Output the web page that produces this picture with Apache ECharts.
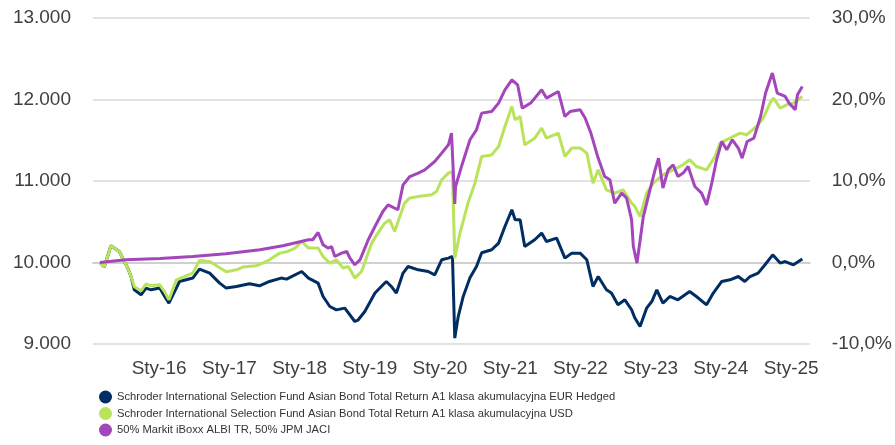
<!DOCTYPE html>
<html>
<head>
<meta charset="utf-8">
<script src="https://cdn.jsdelivr.net/npm/echarts@6.0.0/dist/echarts.min.js"></script>
<style>
  html, body { margin: 0; padding: 0; background: #fff; }
  #chart { width: 895px; height: 445px; }
</style>
</head>
<body>
<div id="chart"></div>
<script>
// nazwy serii (legenda)
var seriesNames = [
  "Schroder International Selection Fund Asian Bond Total Return A1 klasa akumulacyjna EUR Hedged",
  "Schroder International Selection Fund Asian Bond Total Return A1 klasa akumulacyjna USD",
  "50% Markit iBoxx ALBI TR, 50% JPM JACI"
];

// lata z etykietami na osi X (Sty-16 ... Sty-25)
var labelYears = [2016, 2017, 2018, 2019, 2020, 2021, 2022, 2023, 2024, 2025];

// EUR Hedged
var blueDates = [
  "2015-02-27", "2015-03-22", "2015-04-25", "2015-06-08", "2015-07-04", "2015-07-21", "2015-08-08", "2015-08-25",
  "2015-09-29", "2015-10-25", "2015-11-20", "2016-01-04", "2016-01-30", "2016-02-21", "2016-04-16", "2016-06-24",
  "2016-07-29", "2016-09-20", "2016-11-11", "2016-12-15", "2017-02-06", "2017-04-15", "2017-06-06", "2017-07-28",
  "2017-09-27", "2017-10-25", "2018-01-12", "2018-02-16", "2018-04-07", "2018-05-03", "2018-06-07", "2018-07-11",
  "2018-08-24", "2018-10-15", "2018-11-02", "2018-12-06", "2019-01-28", "2019-03-02", "2019-03-28", "2019-04-23",
  "2019-05-19", "2019-06-23", "2019-07-19", "2019-09-10", "2019-11-01", "2019-12-05", "2020-01-10", "2020-02-14",
  "2020-03-06", "2020-03-18", "2020-04-05", "2020-05-01", "2020-06-05", "2020-07-09", "2020-08-05", "2020-09-26",
  "2020-11-01", "2020-12-04", "2021-01-09", "2021-01-26", "2021-02-21", "2021-03-17", "2021-05-08", "2021-06-13",
  "2021-07-08", "2021-08-30", "2021-10-12", "2021-11-17", "2021-12-30", "2022-02-03", "2022-03-07", "2022-04-03",
  "2022-05-16", "2022-06-11", "2022-07-15", "2022-08-20", "2022-09-24", "2022-10-11", "2022-11-07", "2022-12-11",
  "2023-01-07", "2023-02-02", "2023-03-06", "2023-04-11", "2023-05-23", "2023-07-23", "2023-08-27", "2023-10-19",
  "2023-11-23", "2024-01-06", "2024-02-18", "2024-04-01", "2024-05-05", "2024-06-01", "2024-07-13", "2024-08-18",
  "2024-09-27", "2024-11-05", "2024-12-01", "2025-01-13", "2025-02-28"
];
var blueValues = [
  10000, 9944, 10205, 10135, 10012, 9935, 9828, 9665,
  9604, 9686, 9665, 9686, 9583, 9502, 9767, 9809,
  9919, 9870, 9747, 9686, 9706, 9739, 9714, 9767,
  9809, 9796, 9890, 9809, 9747, 9583, 9460, 9419,
  9440, 9276, 9297, 9399, 9625, 9706, 9767, 9706,
  9625, 9870, 9951, 9910, 9890, 9849, 10033, 10054,
  10074, 9072, 9337, 9583, 9812, 9951, 10119, 10156,
  10238, 10442, 10647, 10524, 10524, 10196, 10279, 10361,
  10258, 10299, 10054, 10115, 10115, 10033, 9706, 9828,
  9665, 9625, 9481, 9542, 9420, 9318, 9215, 9440,
  9521, 9665, 9502, 9583, 9542, 9644, 9583, 9481,
  9625, 9767, 9788, 9828, 9767, 9828, 9870, 9972,
  10094, 9993, 10012, 9972, 10042
];

// USD
var greenDates = [
  "2015-02-27", "2015-03-22", "2015-04-25", "2015-06-08", "2015-07-04", "2015-07-21", "2015-08-08", "2015-08-25",
  "2015-09-29", "2015-10-25", "2015-11-20", "2016-01-04", "2016-01-30", "2016-02-21", "2016-03-31", "2016-06-24",
  "2016-07-29", "2016-09-20", "2016-11-11", "2016-12-15", "2017-02-06", "2017-03-11", "2017-05-19", "2017-06-23",
  "2017-07-28", "2017-09-19", "2017-10-25", "2017-12-08", "2018-01-12", "2018-02-16", "2018-04-07", "2018-05-03",
  "2018-06-07", "2018-07-11", "2018-08-15", "2018-09-11", "2018-10-15", "2018-11-19", "2019-01-11", "2019-02-06",
  "2019-03-19", "2019-04-14", "2019-05-10", "2019-07-01", "2019-07-26", "2019-09-10", "2019-11-18", "2019-12-14",
  "2020-01-10", "2020-02-14", "2020-03-06", "2020-03-18", "2020-04-14", "2020-05-26", "2020-07-01", "2020-08-05",
  "2020-09-26", "2020-11-01", "2020-12-04", "2021-01-09", "2021-01-26", "2021-02-21", "2021-03-17", "2021-05-08",
  "2021-06-13", "2021-07-08", "2021-09-08", "2021-10-12", "2021-11-17", "2021-12-30", "2022-02-03", "2022-03-07",
  "2022-04-03", "2022-05-16", "2022-06-28", "2022-08-11", "2022-09-24", "2022-10-11", "2022-11-07", "2022-12-11",
  "2023-01-15", "2023-03-06", "2023-04-28", "2023-06-19", "2023-07-23", "2023-08-27", "2023-10-19", "2023-12-02",
  "2023-12-28", "2024-02-18", "2024-04-10", "2024-05-14", "2024-07-05", "2024-08-09", "2024-09-13", "2024-10-01",
  "2024-11-05", "2024-12-09", "2025-01-13", "2025-02-28"
];
var greenValues = [
  10000, 9944, 10205, 10135, 10012, 9935, 9828, 9702,
  9653, 9739, 9714, 9726, 9640, 9542, 9788, 9870,
  10025, 10012, 9935, 9886, 9910, 9944, 9960, 9993,
  10033, 10115, 10131, 10177, 10258, 10177, 10177, 10074,
  9993, 10033, 9931, 9951, 9809, 9890, 10238, 10340,
  10483, 10524, 10380, 10729, 10790, 10810, 10831, 10871,
  11015, 11097, 11117, 10054, 10361, 10729, 10974, 11301,
  11320, 11423, 11669, 11914, 11751, 11791, 11444, 11526,
  11649, 11526, 11588, 11301, 11404, 11404, 11342, 10974,
  11137, 10892, 10852, 10892, 10729, 10687, 10564, 10852,
  10974, 11076, 11137, 11199, 11260, 11178, 11137, 11301,
  11465, 11526, 11588, 11567, 11669, 11772, 11956, 12017,
  11894, 11935, 11956, 12037
];

// benchmark
var purpleDates = [
  "2015-02-27", "2015-07-11", "2016-01-06", "2016-06-24", "2016-12-13", "2017-06-08", "2017-10-06", "2018-02-16",
  "2018-03-10", "2018-04-07", "2018-05-03", "2018-05-28", "2018-06-16", "2018-07-03", "2018-08-07", "2018-09-03",
  "2018-09-20", "2018-10-15", "2018-11-11", "2018-12-24", "2019-01-28", "2019-03-10", "2019-04-06", "2019-05-27",
  "2019-06-23", "2019-07-28", "2019-09-10", "2019-10-14", "2019-12-05", "2020-01-10", "2020-02-14", "2020-03-01",
  "2020-03-08", "2020-03-18", "2020-03-22", "2020-04-22", "2020-06-05", "2020-07-09", "2020-08-05", "2020-09-26",
  "2020-11-01", "2020-12-04", "2021-01-09", "2021-02-08", "2021-03-04", "2021-04-17", "2021-06-13", "2021-07-08",
  "2021-09-08", "2021-10-12", "2021-11-08", "2021-12-30", "2022-01-25", "2022-02-24", "2022-04-03", "2022-05-07",
  "2022-06-03", "2022-06-28", "2022-08-03", "2022-08-29", "2022-09-24", "2022-10-03", "2022-10-22", "2022-11-24",
  "2022-12-20", "2023-01-24", "2023-02-11", "2023-03-06", "2023-04-02", "2023-04-28", "2023-05-23", "2023-06-19",
  "2023-07-15", "2023-08-19", "2023-09-23", "2023-10-19", "2023-11-15", "2023-12-10", "2024-01-06", "2024-02-01",
  "2024-03-01", "2024-04-01", "2024-04-21", "2024-05-17", "2024-06-21", "2024-07-26", "2024-08-21", "2024-09-25",
  "2024-10-21", "2024-12-01", "2024-12-21", "2025-01-22", "2025-02-03", "2025-02-28"
];
var purpleValues = [
  10000, 10033, 10049, 10074, 10107, 10156, 10205, 10279,
  10279, 10368, 10217, 10177, 10196, 10074, 10115, 10135,
  10054, 9972, 10033, 10279, 10442, 10626, 10708, 10647,
  10953, 11055, 11097, 11137, 11239, 11342, 11444, 11588,
  11567, 10720, 10933, 11178, 11506, 11628, 11833, 11853,
  11956, 12119, 12242, 12180, 11894, 11956, 12119, 12017,
  12098, 11791, 11853, 11874, 11772, 11588, 11281, 11055,
  11015, 10729, 10852, 10790, 10524, 10196, 9993, 10564,
  10810, 11137, 11281, 10913, 11137, 11199, 11055, 11097,
  11178, 10933, 10852, 10708, 10974, 11260, 11485, 11383,
  11506, 11404, 11281, 11485, 11526, 11791, 12079, 12324,
  12079, 12037, 11956, 11874, 12058, 12160
];

var colors = ["#002d62", "#b8e35a", "#a446bb"];

// "YYYY-MM-DD" -> timestamp (czas lokalny)
function ts(s) {
  var p = s.split("-");
  return new Date(+p[0], +p[1] - 1, +p[2]).getTime();
}

function toPairs(dates, values) {
  return dates.map(function (d, i) { return [ts(d), values[i]]; });
}

var axisFont = { fontFamily: "'Liberation Sans', Arial, sans-serif", fontSize: 19, color: "#404040" };

var myChart = echarts.init(document.getElementById("chart"));
var option = {
  animation: false,
  color: colors,
  grid: { left: 93, right: 85, top: 18, bottom: 101, containLabel: false },
  legend: {
    orient: "vertical",
    left: 94,
    top: 384,
    icon: "circle",
    itemWidth: 13,
    itemHeight: 13,
    itemGap: 0.5,
    textStyle: {
      fontFamily: "'Arial Narrow', 'Liberation Sans', sans-serif",
      fontSize: 11.2,
      lineHeight: 16,
      color: "#333333"
    },
    data: seriesNames
  },
  xAxis: {
    type: "value",
    min: ts("2015-01-22"),
    max: ts("2025-04-08"),
    axisLine: { show: true, lineStyle: { color: "#d0d0d0", width: 2 } },
    axisTick: { show: false },
    splitLine: { show: false },
    axisLabel: Object.assign({
      margin: 15,
      customValues: labelYears.map(function (y) { return new Date(y, 0, 1).getTime(); }),
      formatter: function (v) {
        return "Sty-" + String(new Date(v).getFullYear()).slice(2);
      }
    }, axisFont)
  },
  yAxis: [
    {
      type: "value",
      min: 9000,
      max: 13000,
      interval: 1000,
      axisLine: { show: false },
      axisTick: { show: false },
      splitLine: { show: true, lineStyle: { color: "#e2e2e2", width: 2 } },
      axisLabel: Object.assign({
        margin: 22,
        formatter: function (v) { return String(v / 1000) + ".000"; }
      }, axisFont)
    },
    {
      type: "value",
      min: -10,
      max: 30,
      interval: 10,
      position: "right",
      axisLine: { show: false },
      axisTick: { show: false },
      splitLine: { show: false },
      axisLabel: Object.assign({
        margin: 22,
        formatter: function (v) { return v.toFixed(1).replace(".", ",") + "%"; }
      }, axisFont)
    }
  ],
  series: [
    {
      name: seriesNames[0],
      type: "line",
      symbol: "none",
      lineStyle: { width: 3 },
      data: toPairs(blueDates, blueValues)
    },
    {
      name: seriesNames[1],
      type: "line",
      symbol: "none",
      lineStyle: { width: 3 },
      data: toPairs(greenDates, greenValues)
    },
    {
      name: seriesNames[2],
      type: "line",
      symbol: "none",
      lineStyle: { width: 3 },
      data: toPairs(purpleDates, purpleValues)
    }
  ]
};
myChart.setOption(option);
</script>
</body>
</html>
